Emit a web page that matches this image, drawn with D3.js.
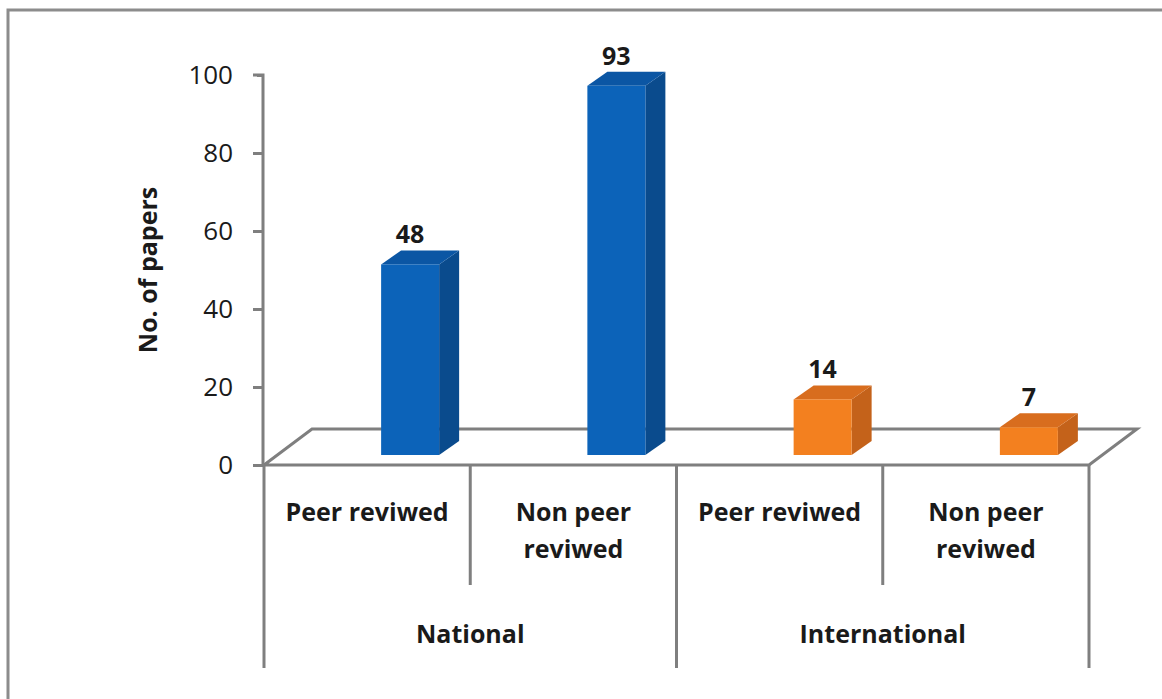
<!DOCTYPE html>
<html>
<head>
<meta charset="utf-8">
<script src="https://cdn.jsdelivr.net/npm/d3@7"></script>
<style>
  body { margin: 0; background: #fff; }
  text { font-family: "Open Sans", Lato, sans-serif; fill: #1a1a1a; }
</style>
</head>
<body>
<script>
// data
const groups = ["National", "International"];
const subLabels = [["Peer reviwed"], ["Non peer", "reviwed"], ["Peer reviwed"], ["Non peer", "reviwed"]];
const barKeys = ["nat-peer", "nat-nonpeer", "int-peer", "int-nonpeer"];
const values = [48, 93, 14, 7];
const barGroup = [0, 0, 1, 1];
const yTicks = [0, 20, 40, 60, 80, 100];

const w = 1162, h = 699;
const depthX = 20, depthY = -14;    // bar depth
const floorDX = 48, floorDY = -36;  // floor depth

const colors = [
    { front: "#0c63b9", side: "#0a4b8d", top: "#0b56a4" },
    { front: "#f3801f", side: "#c4621a", top: "#d86d1e" }
];

const svg = d3.select("body")
    .append("svg")
    .attr("width", w)
    .attr("height", h);

// outer frame (right/bottom fall outside the picture)
svg.append("rect")
    .attr("x", 8).attr("y", 10)
    .attr("width", 1170).attr("height", 700)
    .attr("fill", "none")
    .attr("stroke", "#8c8c8c")
    .attr("stroke-width", 3);

const y = d3.scaleLinear([0, 100], [465, 75]);
const yBar = d3.scaleLinear([0, 100], [455, 58]);
const x = d3.scaleBand(barKeys, [264, 1089]);

const gray = "#7f7f7f";

// floor
const fx0 = x.range()[0], fx1 = x.range()[1], fy = y(0);
svg.append("path")
    .attr("d", `M${fx0},${fy} L${fx0 + floorDX},${fy + floorDY} L${fx1 + floorDX},${fy + floorDY} L${fx1},${fy} Z`)
    .attr("fill", "none")
    .attr("stroke", gray)
    .attr("stroke-width", 3);

// y axis
const axis = svg.append("g")
    .attr("transform", `translate(${fx0 - 1},0)`)
    .call(d3.axisLeft(y).tickValues(yTicks).tickSize(10).tickPadding(20));
axis.select(".domain").attr("stroke", gray).attr("stroke-width", 3)
    .attr("d", `M-10,${y(100)}H0V${y(0)}`);
axis.selectAll(".tick line").attr("stroke", gray).attr("stroke-width", 3);
axis.selectAll(".tick text")
    .style("font-size", "26px")
    .style("font-family", "Open Sans, sans-serif")
    .attr("fill", "#1a1a1a");
axis.selectAll(".tick").filter(d => d === 100).select("line").attr("x2", -6);

// axis title
svg.append("text")
    .attr("transform", "translate(157,270) rotate(-90)")
    .attr("text-anchor", "middle")
    .style("font-size", "25px")
    .style("font-weight", "bold")
    .text("No. of papers");

// category dividers
const bounds = barKeys.map(k => x(k)).concat([fx1]);
bounds.forEach((bx, i) => {
    svg.append("line")
        .attr("x1", bx).attr("x2", bx)
        .attr("y1", fy).attr("y2", i % 2 === 0 ? 668 : 585)
        .attr("stroke", gray)
        .attr("stroke-width", 3);
});

// bars
const barW = 58;
const barOff = 43; // shift of the bar centre into the floor
values.forEach((v, i) => {
    const c = colors[barGroup[i]];
    const cx = x(barKeys[i]) + x.bandwidth() / 2 + barOff;
    const x0 = cx - barW / 2, x1 = cx + barW / 2;
    const yb = yBar(0), yt = yBar(v);
    const g = svg.append("g");
    g.append("path")
        .attr("d", `M${x1},${yb} L${x1 + depthX},${yb + depthY} L${x1 + depthX},${yt + depthY} L${x1},${yt} Z`)
        .attr("fill", c.side);
    g.append("path")
        .attr("d", `M${x0},${yt} L${x0 + depthX},${yt + depthY} L${x1 + depthX},${yt + depthY} L${x1},${yt} Z`)
        .attr("fill", c.top);
    g.append("rect")
        .attr("x", x0).attr("y", yt)
        .attr("width", barW).attr("height", yb - yt)
        .attr("fill", c.front);
    svg.append("text")
        .attr("x", cx)
        .attr("y", yt - 21)
        .attr("text-anchor", "middle")
        .style("font-size", "25px")
        .style("font-weight", "bold")
        .text(v);
});

// sub category labels
subLabels.forEach((lines, i) => {
    const cx = x(barKeys[i]) + x.bandwidth() / 2;
    const t = svg.append("text")
        .attr("text-anchor", "middle")
        .style("font-size", "25px")
        .style("font-weight", "bold");
    lines.forEach((s, j) => {
        t.append("tspan").attr("x", cx).attr("y", 521 + j * 37).text(s);
    });
});

// group labels
groups.forEach((gname, i) => {
    const cx = x(barKeys[i * 2]) + x.bandwidth();
    svg.append("text")
        .attr("x", cx)
        .attr("y", 643)
        .attr("text-anchor", "middle")
        .style("font-size", "25px")
        .style("font-weight", "bold")
        .text(gname);
});
</script>
</body>
</html>
